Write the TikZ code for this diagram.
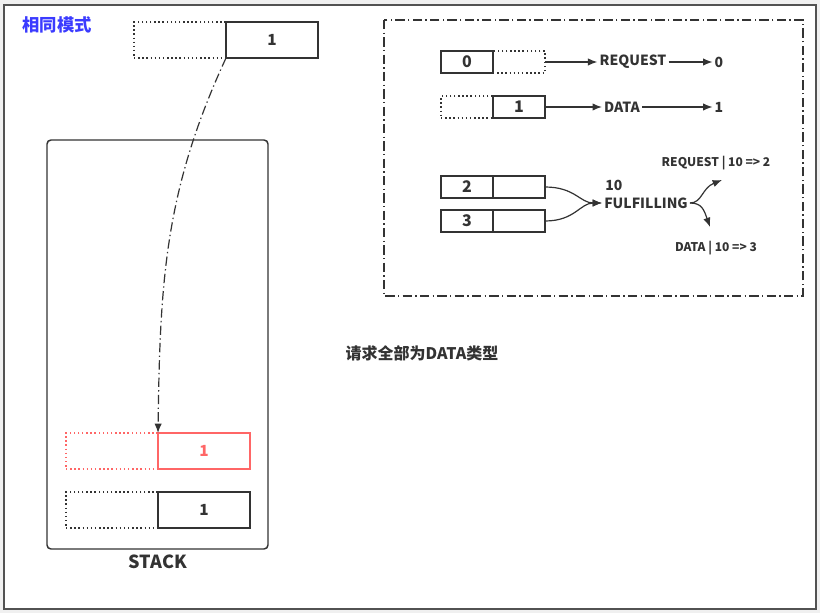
\documentclass[tikz,border=0pt]{standalone}
\usepackage{fontspec}
\setmainfont{Noto Sans CJK SC}
\usetikzlibrary{positioning,arrows.meta}

\definecolor{ink}{HTML}{333333}
\definecolor{alert}{HTML}{FF6666}
\definecolor{modeblue}{HTML}{3B3BFF}
\definecolor{canvas}{HTML}{F0F0F0}

\begin{document}
\begin{tikzpicture}[x=0.75pt,y=-0.75pt,
    cell/.style={draw=ink, line width=1.1pt, minimum width=69pt, minimum height=27pt,
      inner sep=0pt, outer sep=0pt, text=ink, font=\bfseries\fontsize{11.5}{13}\selectfont},
    ghost/.style={cell, dotted},
    redcell/.style={cell, draw=alert, text=alert},
    redghost/.style={redcell, dotted},
    smallcell/.style={cell, minimum width=39pt, minimum height=16.5pt,
      font=\bfseries\fontsize{12}{13}\selectfont},
    smallghost/.style={smallcell, dotted},
    lbl/.style={text=ink, inner sep=1.5pt, font=\bfseries\fontsize{10.5}{12}\selectfont},
    tiny/.style={lbl, font=\bfseries\fontsize{9}{10}\selectfont},
    arr/.style={draw=ink, line width=0.9pt, -{Latex[length=7pt,width=5.5pt]}},
    dashdot/.style={draw=ink, line width=0.9pt, dash pattern=on 7pt off 2.5pt on 1pt off 2.5pt}]

    % page
    \fill[canvas] (0,0) rectangle (820,613);
    \draw[draw=ink!85, line width=1.3pt, fill=white] (4,5) rectangle (816,609);
    \node[text=modeblue, font=\bfseries\fontsize{13}{15}\selectfont] (mode) at (57,25) {相同模式};

    % the new node
    \node[cell] (top1) at (272,40) {1};
    \node[ghost, left=0pt of top1] (topghost) {};

    % stack
    \node[draw=ink, line width=1.1pt, rounded corners=3pt, minimum width=165.75pt,
      minimum height=306.75pt] (stack) at (157.5,344.5) {};
    \node[text=ink, font=\bfseries\fontsize{13.5}{15}\selectfont] (stacklbl) at (158,562) {STACK};
    \node[redcell] (push) at (204,451) {1};
    \node[redghost, left=0pt of push] (pushghost) {};
    \node[cell] (base) at (204,510) {1};
    \node[ghost, left=0pt of base] (baseghost) {};

    \draw[dashdot, -{Latex[length=7pt,width=5.5pt]}] (top1.south west)
      .. controls (165,190) and (160,280) .. (push.north west);

    % modes
    \draw[dashdot] (384,20) rectangle (803,296);

    \node[smallcell] (req0) at (467,62) {0};
    \node[smallghost, right=0pt of req0] (req0ghost) {};
    \node[lbl] (reqtxt) at (633,62) {REQUEST};
    \node[lbl] (reqout) at (719,62) {0};
    \draw[arr] (req0ghost) -- (reqtxt);
    \draw[arr] (reqtxt) -- (reqout);

    \node[smallcell] (dat1) at (519,107) {1};
    \node[smallghost, left=0pt of dat1] (dat1ghost) {};
    \node[lbl] (dattxt) at (622,107) {DATA};
    \node[lbl] (datout) at (719,107) {1};
    \draw[arr] (dat1) -- (dattxt);
    \draw[arr] (dattxt) -- (datout);

    \node[smallcell] (f2) at (467,187) {2};
    \node[smallcell, right=0pt of f2] (f2r) {};
    \node[smallcell] (f3) at (467,221) {3};
    \node[smallcell, right=0pt of f3] (f3r) {};
    \node[lbl] (ful) at (646,203) {FULFILLING};
    \node[lbl, anchor=west] (ften) at (603,185) {10};
    \draw[arr] (f2r.east) .. controls (575,187) and (580,203) .. (ful.west);
    \draw[arr] (f3r.east) .. controls (575,221) and (580,203) .. (ful.west);

    \coordinate (upend) at (722,180);
    \coordinate (downend) at (710,227);
    \draw[arr] (ful.east) .. controls (702,203) and (702,188) .. (upend);
    \draw[arr] (ful.east) .. controls (702,203) and (704,210) .. (downend);
    \node[tiny] (rq2) at (716,163) {REQUEST | 10 => 2};
    \node[tiny] (dt3) at (716,248) {DATA | 10 => 3};

    \node[text=ink, font=\bfseries\fontsize{12}{14}\selectfont] (note) at (422,353) {请求全部为DATA类型};
\end{tikzpicture}
\end{document}
